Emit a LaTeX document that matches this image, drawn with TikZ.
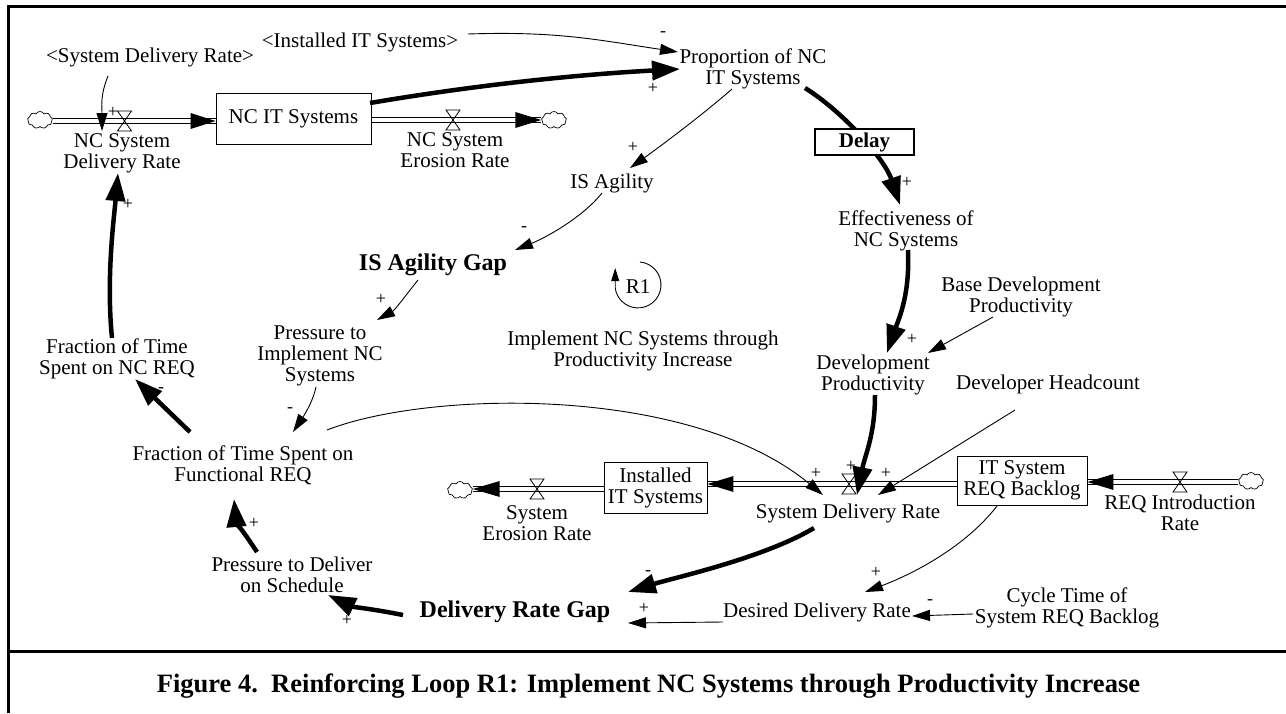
\documentclass[tikz,border=0pt]{standalone}
\usepackage{fontspec}
\setmainfont{Liberation Serif}
\usetikzlibrary{arrows.meta,shapes.symbols,calc}
\begin{document}
\begin{tikzpicture}[x=1pt,y=-1pt,
  lbl/.style={font=\fontsize{21}{21}\selectfont, align=center, inner sep=1pt},
  blbl/.style={font=\fontsize{24}{24}\selectfont\bfseries, align=center, inner sep=1pt},
  stock/.style={draw, line width=0.9pt, inner sep=0pt, font=\fontsize{21}{21}\selectfont, align=center},
  cld/.style={cloud, draw, cloud puffs=9, cloud puff arc=120, aspect=1.5, minimum width=25pt, minimum height=17pt, inner sep=0pt, line width=0.7pt},
  pl/.style={line width=0.9pt},
  lnk/.style={line width=0.9pt, -{Triangle[length=18pt,width=11pt]}},
  blnk/.style={line width=4.5pt, -{Triangle[length=28pt,width=19pt]}},
  sgn/.style={font=\fontsize{18}{18}\selectfont, inner sep=0pt},
  valve/.pic={\draw[line width=0.8pt] (-7,-10) -- (7,-10) -- (-7,10) -- (7,10) -- cycle;},
  frame/.style={line width=3pt},
]
\useasboundingbox (0,0) rectangle (1286,713);
% frame
\draw[frame] (1286,6.5) -- (8.5,6.5) -- (8.5,713);
\draw[frame] (8.5,651.5) -- (1286,651.5);

% ---------- nodes ----------
\node[cld] (c1) at (40,120) {};
\coordinate (v1) at (124.5,121);
\node[lbl] (ncsdr) at (122,153) {NC System\\Delivery Rate};
\node[stock, minimum width=155pt, minimum height=51pt] (ncit) at (293.5,118.5) {NC IT Systems};
\coordinate (v2) at (453,120);
\node[cld] (c2) at (554,120) {};
\node[lbl] (ncser) at (455,150) {NC System\\Erosion Rate};
\node[lbl] (sdrg) at (150,57) {<System Delivery Rate>};
\node[lbl] (iitg) at (360,42) {<Installed IT Systems>};
\node[lbl] (prop) at (753,69) {Proportion of NC\\IT Systems};
\node[lbl] (isag) at (612,183) {IS Agility};
\node[blbl] (isgap) at (433,265) {IS Agility Gap};
\node[lbl] (eff) at (906,231) {Effectiveness of\\NC Systems};
\node[lbl] (bdp) at (1021,297) {Base Development\\Productivity};
\node[lbl] (devprod) at (873,375) {Development\\Productivity};
\node[lbl] (devhc) at (1048,384) {Developer Headcount};
\node[stock, minimum width=130pt, minimum height=49pt] (itreq) at (1022,480.5) {IT System\\REQ Backlog};
\node[lbl] (reqi) at (1180,513) {REQ Introduction\\Rate};
\node[cld] (c3) at (1251,481) {};
\coordinate (v3) at (1180,482);
\coordinate (v4) at (849,484);
\node[lbl] (sdr) at (848,513) {System Delivery Rate};
\node[stock, minimum width=103pt, minimum height=51pt] (inst) at (655.5,487.5) {Installed\\IT Systems};
\coordinate (v5) at (537,489);
\node[cld] (c4) at (460,490) {};
\node[lbl] (ser) at (537,523) {System\\Erosion Rate};
\node[blbl] (drg) at (515,612) {Delivery Rate Gap};
\node[lbl] (ddr) at (817,612) {Desired Delivery Rate};
\node[lbl] (ctsrb) at (1067,608) {Cycle Time of\\System REQ Backlog};
\node[lbl] (ptd) at (292,575) {Pressure to Deliver\\on Schedule};
\node[lbl] (ffr) at (243,465) {Fraction of Time Spent on\\Functional REQ};
\node[lbl] (fnc) at (117,359) {Fraction of Time\\Spent on NC REQ};
\node[lbl] (pin) at (320,356) {Pressure to\\Implement NC\\Systems};
\node[lbl] (loop) at (643,351) {Implement NC Systems through\\Productivity Increase};
\node[lbl] (r1) at (638,287) {R1};
\node[font=\fontsize{26.5}{26.5}\selectfont\bfseries, inner sep=0pt] (cap) at (648.5,686) {Figure 4.\ \ Reinforcing Loop R1: Implement NC Systems through Productivity Increase};

% ---------- flows (double pipes) ----------
\foreach \o in {-2.5,2.5} {
  \draw[pl] ($(c1.east |- v1)+(0,\o)$) -- ($(ncit.west |- v1)+(0,\o)$);
  \draw[pl] ($(ncit.east |- v2)+(0,\o)$) -- ($(c2.west |- v2)+(0,\o)$);
  \draw[pl] ($(c3.west |- v3)+(0,\o)$) -- ($(itreq.east |- v3)+(0,\o)$);
  \draw[pl] ($(itreq.west |- v4)+(0,\o)$) -- ($(inst.east |- v4)+(0,\o)$);
  \draw[pl] ($(inst.west |- v5)+(0,\o)$) -- ($(c4.east |- v5)+(0,\o)$);
}
\fill (ncit.west |- v1) -- ++(-25,-8) -- ++(0,16) -- cycle;
\fill (c2.west |- v2) -- ++(-26,-8) -- ++(0,16) -- cycle;
\fill (itreq.east |- v3) -- ++(26,-8) -- ++(0,16) -- cycle;
\fill (inst.east |- v4) -- ++(26,-8) -- ++(0,16) -- cycle;
\fill (c4.east |- v5) -- ++(27,-8) -- ++(0,16) -- cycle;
\pic at (v1) {valve};
\pic at (v2) {valve};
\pic at (v3) {valve};
\pic at (v4) {valve};
\pic at (v5) {valve};

% ---------- links ----------
% A
\draw[lnk] ($(sdrg)+(-42,19)$) .. controls +(-8,20) and +(0,-25) .. ($(ncsdr)+(-20,-22)$);
% B
\draw[lnk] ($(iitg)+(108,-8)$) .. controls +(90,-3) and +(-80,-12) .. ($(prop)+(-75,-17)$);
% C
\draw[blnk] ($(ncit)+(76.5,-15.5)$) .. controls +(100,-17) and +(-110,6) .. ($(prop)+(-73,0)$);
% D
\draw[lnk] ($(prop)+(-21,20)$) .. controls +(-25,22) and +(35,-25) .. ($(isag)+(18,-15)$);
% E
\draw[lnk] ($(isag)+(-10,10)$) .. controls +(-20,25) and +(30,-12) .. ($(isgap)+(82,-15)$);
% F (through delay)
\draw[blnk] ($(prop)+(52,19)$) .. controls +(40,25) and +(-15,-45) .. ($(eff)+(-6,-26)$);
\node[draw, fill=white, line width=2.2pt, minimum width=99pt, minimum height=26pt, inner sep=0pt, font=\fontsize{21}{21}\selectfont\bfseries] (delay) at (864.5,142) {Delay};
% G
\draw[blnk] ($(eff)+(2,19)$) .. controls +(2,45) and +(12,-35) .. ($(devprod)+(14,-22)$);
% H
\draw[lnk] ($(bdp)+(-28,20)$) -- ($(devprod)+(55,-22)$);
% I
\draw[lnk] ($(devhc)+(-33,26)$) -- ($(v4)+(29,11)$);
% J
\draw[blnk] ($(devprod)+(2,20)$) .. controls +(0,40) and +(8,-40) .. ($(v4)+(8,11)$);
% K
\draw[lnk] ($(ffr)+(84,-35)$) .. controls +(103,-40) and +(-133,-110) .. ($(v4)+(-26,11)$);
% L
\draw[lnk] ($(pin)+(-4,31)$) .. controls +(-3,15) and +(10,-15) .. ($(ffr)+(50,-33)$);
% M
\draw[lnk] ($(isgap)+(-15,15)$) .. controls +(-12,15) and +(18,-10) .. ($(pin)+(57,-36)$);
% N
\draw[blnk] ($(ffr)+(-53,-33)$) -- ($(fnc)+(18,20)$);
% O
\draw[blnk] ($(fnc)+(-5,-21)$) .. controls +(-6,-60) and +(-4,45) .. ($(ncsdr)+(-4,20)$);
% P
\draw[blnk] ($(ptd)+(-35,-23)$) .. controls +(-12,-18) and +(2,22) .. ($(ffr)+(-9,34)$);
% Q
\draw[blnk] ($(drg)+(-112,3)$) .. controls +(-30,-6) and +(25,12) .. ($(ptd)+(36,20)$);
% R
\draw[blnk] ($(sdr)+(-34,15)$) .. controls +(-50,30) and +(45,-14) .. ($(drg)+(113,-20)$);
% S
\draw[lnk] ($(ddr)+(-94,10)$) -- ($(drg)+(113,11)$);
% T
\draw[lnk] ($(ctsrb)+(-94,6)$) -- ($(ddr)+(95,4)$);
% U
\draw[lnk] ($(itreq)+(-25,25.5)$) .. controls +(-35,45) and +(40,-15) .. ($(ddr)+(48,-20)$);
% R1 loop symbol
\draw[line width=0.9pt, -{Triangle[length=13pt,width=8pt]}] ($(r1)+(2,-25)$) arc[start angle=85, end angle=-172, radius=23pt] -- ++(0,-20);

% ---------- polarity signs ----------
\node[sgn] (s1) at (113,112) {+};
\node[sgn] (s2) at (663,34) {-};
\node[sgn] (s3) at (653,88) {+};
\node[sgn] (s4) at (633,147) {+};
\node[sgn] (s5) at (524,229) {-};
\node[sgn] (s6) at (907,182) {+};
\node[sgn] (s7) at (912,339) {+};
\node[sgn] (s8) at (886,473) {+};
\node[sgn] (s9) at (851,466) {+};
\node[sgn] (s10) at (816,473) {+};
\node[sgn] (s11) at (290,410) {-};
\node[sgn] (s12) at (381,299) {+};
\node[sgn] (s13) at (161,390) {-};
\node[sgn] (s14) at (128,204) {+};
\node[sgn] (s15) at (254,523) {+};
\node[sgn] (s16) at (347,620) {+};
\node[sgn] (s17) at (648,573) {-};
\node[sgn] (s18) at (644,608) {+};
\node[sgn] (s19) at (930,602) {-};
\node[sgn] (s20) at (876,572) {+};
\end{tikzpicture}
\end{document}
